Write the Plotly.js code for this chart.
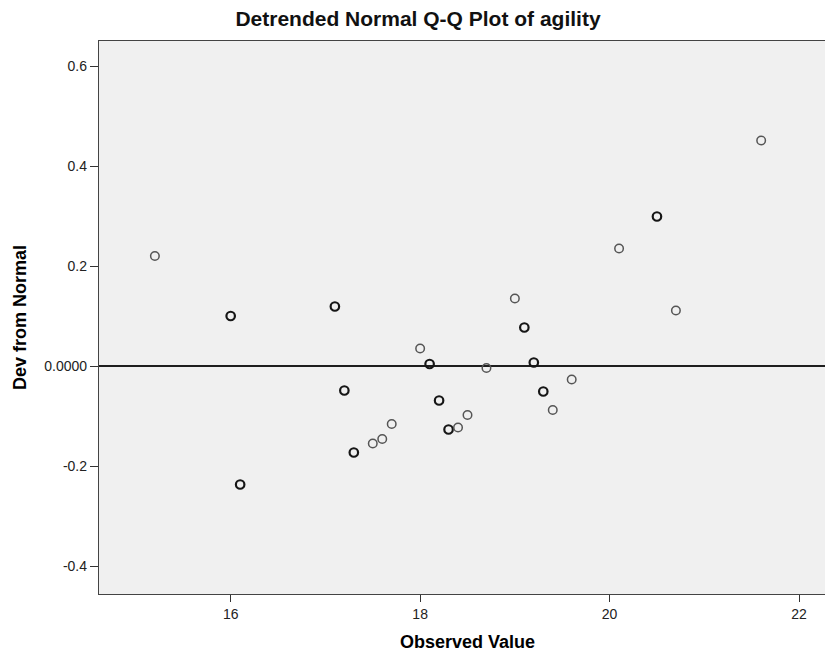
<!DOCTYPE html>
<html>
<head>
<meta charset="utf-8">
<script src="https://cdn.plot.ly/plotly-3.0.1.min.js"></script>
<style>
html, body { margin: 0; padding: 0; overflow: hidden; background: #ffffff; }
#chart { width: 840px; height: 658px; }
</style>
</head>
<body>
<div id="chart"></div>
<script>
// Observed values of agility (x) and their deviation from normal (y)
const observedValue = [15.2, 16.0, 16.1, 17.1, 17.2, 17.3, 17.5, 17.6, 17.7, 18.0, 18.1, 18.2, 18.3,
  18.4, 18.5, 18.7, 19.0, 19.1, 19.2, 19.3, 19.4, 19.6, 20.1, 20.5, 20.7, 21.6];
const devFromNormal = [0.220, 0.100, -0.237, 0.119, -0.049, -0.173, -0.155, -0.146, -0.116, 0.035, 0.004,
  -0.069, -0.127, -0.123, -0.098, -0.004, 0.135, 0.077, 0.007, -0.051, -0.088, -0.027, 0.235, 0.299, 0.111, 0.451];
// number of cases sharing each value (overlapping markers look darker)
const caseCount = [1, 2, 2, 2, 2, 2, 1, 1, 1, 1, 2, 2, 2, 1, 1, 1, 1, 2, 2, 2, 1, 1, 1, 2, 1, 1];

const xTickVals = [16, 18, 20, 22];
const xTickText = ['16', '18', '20', '22'];
const yTickVals = [-0.4, -0.2, 0, 0.2, 0.4, 0.6];
const yTickText = ['-0.4', '-0.2', '0.0000', '0.2', '0.4', '0.6'];

const chartTitle = 'Detrended Normal Q-Q Plot of agility';
const xTitle = 'Observed Value';
const yTitle = 'Dev from Normal';

const lineColors = caseCount.map(c => c > 1 ? '#161616' : '#555555');
const lineWidths = caseCount.map(c => c > 1 ? 2.2 : 1.5);

const trace = {
  type: 'scatter',
  mode: 'markers',
  x: observedValue,
  y: devFromNormal,
  marker: {
    symbol: 'circle',
    size: 8.5,
    color: 'rgba(0,0,0,0)',
    line: { color: lineColors, width: lineWidths }
  },
  hoverinfo: 'x+y',
  showlegend: false
};

const fontFam = 'Liberation Sans, Arial, sans-serif';

const layout = {
  width: 840,
  height: 658,
  margin: { l: 99, r: 4, t: 41, b: 64 },
  paper_bgcolor: '#ffffff',
  plot_bgcolor: '#f0f0f0',
  font: { family: fontFam, color: '#000000' },
  title: {
    text: chartTitle,
    font: { family: fontFam, size: 21, color: '#111111', weight: 'bold' },
    x: 418 / 840,
    xref: 'container',
    xanchor: 'center',
    y: 1 - 19 / 658,
    yref: 'container',
    yanchor: 'middle'
  },
  xaxis: {
    range: [14.61, 22.39],
    tickvals: xTickVals,
    ticktext: xTickText,
    ticks: 'outside',
    ticklen: 7,
    tickwidth: 1.2,
    tickcolor: '#333333',
    tickfont: { family: fontFam, size: 14, color: '#222222' },
    showgrid: false,
    zeroline: false,
    showline: true,
    mirror: true,
    linecolor: '#444444',
    linewidth: 1.3,
    title: { text: xTitle, font: { family: fontFam, size: 18, color: '#000000', weight: 'bold' }, standoff: 14 },
    automargin: false
  },
  yaxis: {
    range: [-0.456, 0.65],
    tickvals: yTickVals,
    ticktext: yTickText,
    ticks: 'outside',
    ticklen: 8,
    tickwidth: 1.2,
    tickcolor: '#333333',
    tickfont: { family: fontFam, size: 14, color: '#222222' },
    showgrid: false,
    zeroline: true,
    zerolinecolor: '#1e1e1e',
    zerolinewidth: 2,
    showline: true,
    mirror: true,
    linecolor: '#444444',
    linewidth: 1.3,
    title: { text: yTitle, font: { family: fontFam, size: 18, color: '#000000', weight: 'bold' }, standoff: 12 },
    automargin: false
  }
};

Plotly.newPlot('chart', [trace], layout, { displayModeBar: false, staticPlot: false });
</script>
</body>
</html>
